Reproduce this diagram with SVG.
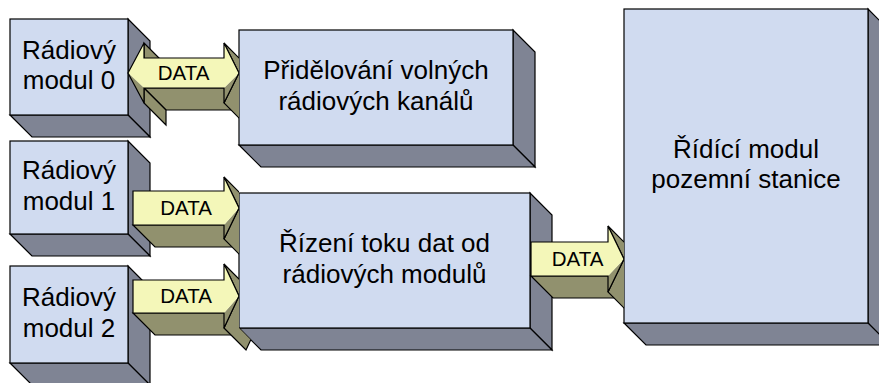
<svg xmlns="http://www.w3.org/2000/svg" width="879" height="383" viewBox="0 0 879 383">
<defs>
<style>
.front{fill:#D0DBF0;stroke:#000;stroke-width:1.2}
.side{fill:#7F8494;stroke:#000;stroke-width:1.2;stroke-linejoin:miter}
.lbl{font-family:"Liberation Sans",Arial,sans-serif;font-size:26px;fill:#000;text-anchor:middle}
.ay{fill:#F4F7B9;stroke:none}
.ao{fill:#91916E;stroke:#000;stroke-width:1.2;stroke-linejoin:miter}
.aon{fill:#91916E;stroke:none}
.aout{fill:none;stroke:#000;stroke-width:1.2;stroke-linejoin:miter}
.dl{font-family:"Liberation Sans",Arial,sans-serif;font-size:20.5px;fill:#000;text-anchor:middle}
</style>
<clipPath id="clipA"><rect x="0" y="0" width="239" height="383"/></clipPath>
<clipPath id="clipB"><polygon points="0,0 239,0 239,328 294,383 0,383"/></clipPath>
<clipPath id="clipC"><rect x="0" y="0" width="624" height="383"/></clipPath>
</defs>
<rect width="879" height="383" fill="#fff"/>

<!-- extruded blocks: right face, bottom face, front face -->
<g id="radio0">
<polygon class="side" points="128,19 150,41 150,137 128,115"/>
<polygon class="side" points="10,115 128,115 150,137 32,137"/>
<rect class="front" x="10" y="19" width="118" height="96"/>
<text class="lbl" x="69" y="58.5">Rádiový</text>
<text class="lbl" x="69" y="89">modul 0</text>
</g>

<g id="radio1">
<polygon class="side" points="128,141 150,163 150,256 128,234"/>
<polygon class="side" points="10,234 128,234 150,256 32,256"/>
<rect class="front" x="10" y="141" width="118" height="93"/>
<text class="lbl" x="69" y="179">Rádiový</text>
<text class="lbl" x="69" y="209.5">modul 1</text>
</g>

<g id="radio2">
<polygon class="side" points="128,266 150,288 150,385 128,363"/>
<polygon class="side" points="10,363 128,363 150,385 32,385"/>
<rect class="front" x="10" y="266" width="118" height="97"/>
<text class="lbl" x="69" y="306">Rádiový</text>
<text class="lbl" x="69" y="336.5">modul 2</text>
</g>

<g id="channels">
<polygon class="side" points="513,30 535,52 535,167 513,145"/>
<polygon class="side" points="239,145 513,145 535,167 261,167"/>
<rect class="front" x="239" y="30" width="274" height="115"/>
<text class="lbl" x="376" y="79">Přidělování volných</text>
<text class="lbl" x="376" y="109.5">rádiových kanálů</text>
</g>

<g id="flow">
<polygon class="side" points="530,193 552,215 552,350 530,328"/>
<polygon class="side" points="239,328 530,328 552,350 261,350"/>
<rect class="front" x="239" y="193" width="291" height="135"/>
<text class="lbl" x="384.5" y="252">Řízení toku dat od</text>
<text class="lbl" x="384.5" y="282.5">rádiových modulů</text>
</g>

<g id="control">
<polygon class="side" points="868,9 890,31 890,345 868,323"/>
<polygon class="side" points="624,323 868,323 890,345 646,345"/>
<rect class="front" x="624" y="9" width="244" height="314"/>
<text class="lbl" x="746" y="157.5">Řídící modul</text>
<text class="lbl" x="746" y="188">pozemní stanice</text>
</g>

<!-- 3D block arrows; each is clipped where it enters its target block -->
<g id="connectors">
<g id="data-0" clip-path="url(#clipA)">
<polygon class="ao" points="144,88 224,88 246,110 166,110"/>
<polygon class="ao" points="144,43 144,58 166,80 166,65"/>
<polygon class="ao" points="144,88 144,103 166,125 166,110"/>
<polygon class="ao" points="224,43 239,73 261,95 246,65"/>
<polygon class="ao" points="239,73 224,103 246,125 261,95"/>
<polygon class="aon" points="128,73 144,88 144,103"/>
<polygon class="aon" points="239,73 224,88 224,103"/>
<polygon class="ay" points="128,73 144,43 144,58 224,58 224,43 239,73 224,88 144,88"/>
<polygon class="aout" points="128,73 144,43 144,58 224,58 224,43 239,73 224,103 224,88 144,88 144,103"/>
<text class="dl" x="183.5" y="80">DATA</text>
</g>

<g id="data-1" clip-path="url(#clipA)">
<polygon class="ao" points="133,225 224,225 246,247 155,247"/>
<polygon class="ao" points="224,177 239,208 261,230 246,199"/>
<polygon class="ao" points="239,208 224,239 246,261 261,230"/>
<polygon class="aon" points="239,208 224,225 224,239"/>
<polygon class="ay" points="133,191 224,191 224,177 239,208 224,225 133,225"/>
<polygon class="aout" points="133,191 224,191 224,177 239,208 224,239 224,225 133,225"/>
<text class="dl" x="186" y="214.5">DATA</text>
</g>

<g id="data-2" clip-path="url(#clipB)">
<polygon class="ao" points="133,313 224,313 246,335 155,335"/>
<polygon class="ao" points="224,264 239,296 261,318 246,286"/>
<polygon class="ao" points="239,296 224,328 246,350 261,318"/>
<polygon class="aon" points="239,296 224,313 224,328"/>
<polygon class="ay" points="133,280 224,280 224,264 239,296 224,313 133,313"/>
<polygon class="aout" points="133,280 224,280 224,264 239,296 224,328 224,313 133,313"/>
<text class="dl" x="186" y="303">DATA</text>
</g>

<g id="data-3" clip-path="url(#clipC)">
<polygon class="ao" points="531,276 608,276 630,298 553,298"/>
<polygon class="ao" points="608,226 624,259 646,281 630,248"/>
<polygon class="ao" points="624,259 608,292 630,314 646,281"/>
<polygon class="aon" points="624,259 608,276 608,292"/>
<polygon class="ay" points="531,242 608,242 608,226 624,259 608,276 531,276"/>
<polygon class="aout" points="531,242 608,242 608,226 624,259 608,292 608,276 531,276"/>
<text class="dl" x="577.5" y="266">DATA</text>
</g>
</g>
</svg>
